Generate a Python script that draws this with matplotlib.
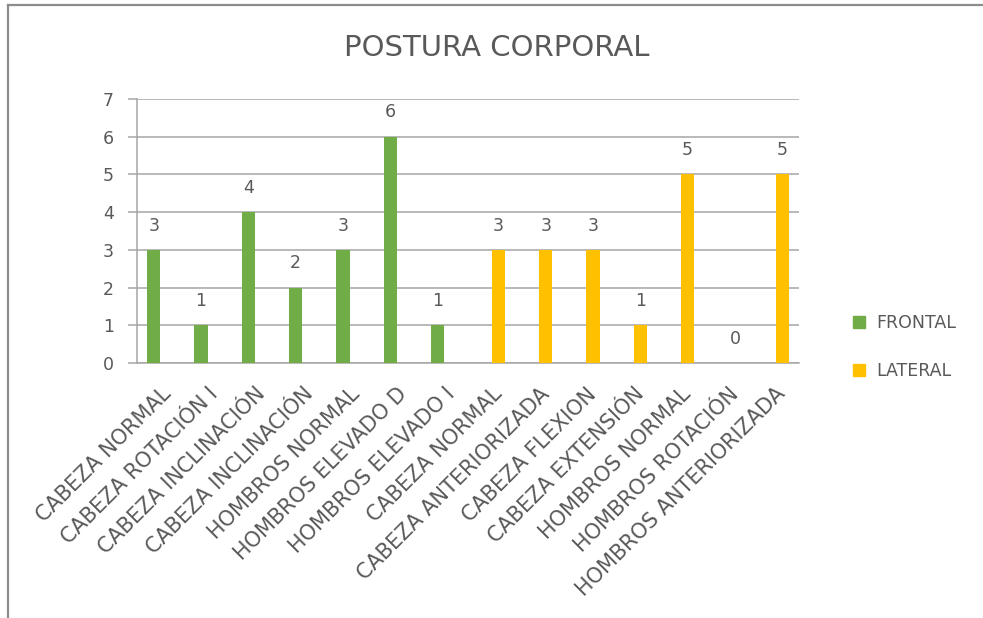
import numpy as np
import matplotlib
matplotlib.use("Agg")
import matplotlib.pyplot as plt
from matplotlib.lines import Line2D

categories = ["CABEZA NORMAL", "CABEZA ROTACIÓN I", "CABEZA INCLINACIÓN",
              "CABEZA INCLINACIÓN", "HOMBROS NORMAL", "HOMBROS ELEVADO D",
              "HOMBROS ELEVADO I", "CABEZA NORMAL", "CABEZA ANTERIORIZADA",
              "CABEZA FLEXION", "CABEZA EXTENSIÓN", "HOMBROS NORMAL",
              "HOMBROS ROTACIÓN", "HOMBROS ANTERIORIZADA"]
frontal = [3, 1, 4, 2, 3, 6, 1]
lateral = [3, 3, 3, 1, 5, 0, 5]

green = "#70AD47"
gold = "#FFC000"
txt = "#595959"
grid = "#a6a6a6"

plt.rcParams['font.family'] = ['DejaVu Sans']

fig = plt.figure(figsize=(9.83, 6.18), dpi=100)
ax = fig.add_axes([137/983, 1-363/618, (799-137)/983, (363-99)/618])

x = np.arange(len(categories))
w = 0.28
xf = x[:len(frontal)] - 0.145
xl = x[len(frontal):] + 0.145
ax.bar(xf, frontal, w, color=green, zorder=3)
ax.bar(xl, lateral, w, color=gold, zorder=3)

for xs, vals in ((xf, frontal), (xl, lateral)):
    for xi, v in zip(xs, vals):
        ax.annotate(str(v), (xi, v), xytext=(0, 11), textcoords="offset points",
                    ha="center", va="bottom", fontsize=12.5, color=txt)

ax.set_xlim(-0.5, len(categories) - 0.5)
ax.set_ylim(0, 7)
ax.set_yticks(range(8))
ax.yaxis.grid(True, color=grid, linewidth=1.1, zorder=0)
ax.set_axisbelow(True)
for s in ("top", "right"):
    ax.spines[s].set_visible(False)
ax.spines["left"].set_color(grid)
ax.spines["bottom"].set_color(grid)
ax.spines["left"].set_linewidth(1.1)
ax.spines["bottom"].set_linewidth(1.1)
ax.tick_params(axis="y", length=6.5, width=1.1, color=grid, pad=10,
               labelsize=12.5, labelcolor=txt)
ax.tick_params(axis="x", length=0, pad=15, labelsize=15, labelcolor=txt)
ax.set_xticks(x)
ax.set_xticklabels(categories, rotation=45, ha="right", rotation_mode="anchor")

fig.text(0.505, 1 - 48/618, "POSTURA CORPORAL", ha="center", va="center",
         fontsize=21, color=txt)

handles = [Line2D([], [], marker="s", linestyle="none", markersize=9,
                  color=green, label="FRONTAL"),
           Line2D([], [], marker="s", linestyle="none", markersize=9,
                  color=gold, label="LATERAL")]
leg = fig.legend(handles=handles, loc="center left",
                 bbox_to_anchor=(835/983, 1 - 347/618), frameon=False,
                 fontsize=12.5, labelspacing=1.7, handletextpad=0.5,
                 handlelength=1.0)
for t in leg.get_texts():
    t.set_color(txt)

# chart area border (left and top edges visible)
fig.add_artist(Line2D([8/983, 8/983], [0, 1 - 5/618], color="#8c8c8c",
                      linewidth=1.6, transform=fig.transFigure))
fig.add_artist(Line2D([8/983, 1], [1 - 5/618, 1 - 5/618], color="#8c8c8c",
                      linewidth=1.6, transform=fig.transFigure))

fig.savefig("out.png", dpi=100)
